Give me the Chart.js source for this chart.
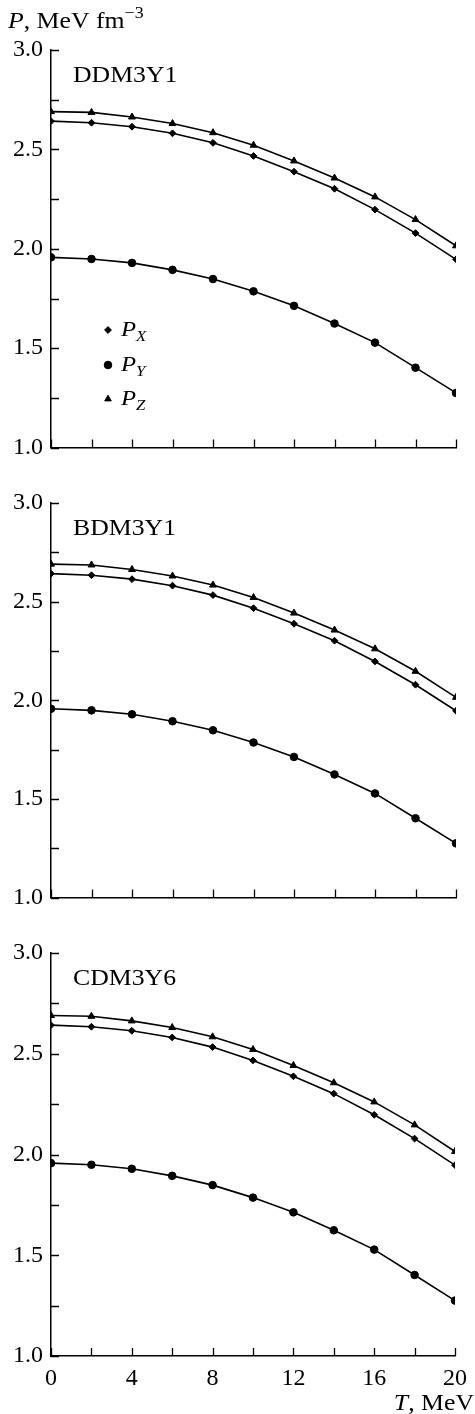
<!DOCTYPE html>
<html>
<head>
<meta charset="utf-8">
<script src="https://cdn.jsdelivr.net/npm/chart.js@4.4.1/dist/chart.umd.min.js"></script>
<style>
  html, body { margin: 0; padding: 0; background: #fff; }
  #wrap { position: relative; width: 475px; height: 1414px; }
  canvas { position: absolute; left: 0; }
</style>
</head>
<body>
<div id="wrap">
  <canvas id="c0" width="475" height="470" style="top:0"></canvas>
  <canvas id="c1" width="475" height="450" style="top:470px"></canvas>
  <canvas id="c2" width="475" height="494" style="top:920px"></canvas>
</div>
<script>
// data (temperature T in MeV, pressure in MeV fm^-3)
const temps = [0, 2, 4, 6, 8, 10, 12, 14, 16, 18, 20];
const pX = [2.642, 2.634, 2.614, 2.581, 2.533, 2.467, 2.388, 2.302, 2.197, 2.079, 1.947];
const pY = [1.957, 1.949, 1.929, 1.894, 1.848, 1.786, 1.713, 1.624, 1.528, 1.402, 1.275];
const pZ = [2.690, 2.686, 2.663, 2.630, 2.584, 2.521, 2.442, 2.356, 2.261, 2.147, 2.015];
const panelNames = ['DDM3Y1', 'BDM3Y1', 'CDM3Y6'];
const yTicks = { min: 1.0, max: 3.0, step: 0.25, labelEvery: 0.5 };
const xTicks = { min: 0, max: 20, step: 2, labelEvery: 4 };

const SERIF = '"Liberation Serif", "DejaVu Serif", serif';
const STRETCH = 1.12; // the scanned figure's lettering is a bit wide
Chart.defaults.font.family = SERIF;
Chart.defaults.color = '#000';

// layout per panel: top padding, x-axis band height, show x labels
const panelLayout = [
  { top: 50, xBand: 16, xLabels: false },
  { top: 33, xBand: 14, xLabels: false },
  { top: 33, xBand: 58, xLabels: true }
];

// measure a run of text pieces (unstretched)
const richWidth = (ctx, parts) => parts.reduce((w, p) => {
  ctx.font = p.font;
  return w + ctx.measureText(p.text).width;
}, 0);

// draw a run of text pieces with different fonts / offsets, slightly widened
const drawRich = (ctx, x, y, parts) => {
  ctx.save();
  ctx.translate(x, y);
  ctx.scale(STRETCH, 1);
  let cx = 0;
  parts.forEach(p => {
    ctx.font = p.font;
    ctx.fillText(p.text, cx, p.dy || 0);
    cx += ctx.measureText(p.text).width;
  });
  ctx.restore();
};

const marker = (ctx, style, r, x, y) => {
  ctx.fillStyle = '#000';
  ctx.strokeStyle = '#000';
  if (Chart.helpers && Chart.helpers.drawPoint) {
    Chart.helpers.drawPoint(ctx, { pointStyle: style, radius: r, rotation: 0, borderWidth: 1 }, x, y);
  } else {
    ctx.beginPath(); ctx.arc(x, y, r, 0, Math.PI * 2); ctx.fill();
  }
};

// ticks pointing into the plot area
const inwardTicks = {
  id: 'inwardTicks',
  afterDraw(chart) {
    const { ctx, scales: { x, y } } = chart;
    ctx.save();
    ctx.strokeStyle = '#000';
    ctx.lineWidth = 1.3;
    ctx.beginPath();
    x.ticks.forEach(t => {
      const px = Math.round(x.getPixelForValue(t.value)) + 0.5;
      ctx.moveTo(px, x.top); ctx.lineTo(px, x.top - 8);
    });
    y.ticks.forEach(t => {
      const py = Math.round(y.getPixelForValue(t.value)) + 0.5;
      ctx.moveTo(y.right, py); ctx.lineTo(y.right + 8, py);
    });
    ctx.stroke();
    ctx.restore();
  }
};

const panelText = {
  id: 'panelText',
  afterDraw(chart, args, opts) {
    const { ctx, chartArea } = chart;
    ctx.save();
    ctx.fillStyle = '#000';
    ctx.textBaseline = 'alphabetic';
    ctx.textAlign = 'left';
    drawRich(ctx, chartArea.left + 22, chartArea.top + 32, [{ text: opts.name, font: `23px ${SERIF}` }]);

    if (opts.first) {
      drawRich(ctx, 8, 28, [
        { text: 'P', font: `italic 23px ${SERIF}` },
        { text: ', MeV fm', font: `23px ${SERIF}` },
        { text: '\u22123', font: `16px ${SERIF}`, dy: -10 }
      ]);
      const items = [['rectRot', 3.4, 'X', 330], ['circle', 3.8, 'Y', 365], ['triangle', 3.8, 'Z', 399]];
      items.forEach(([style, r, sub, yy]) => {
        marker(ctx, style, r, 108, yy);
        ctx.fillStyle = '#000';
        drawRich(ctx, 121, yy + 6, [
          { text: 'P', font: `italic 22px ${SERIF}` },
          { text: sub, font: `italic 15px ${SERIF}`, dy: 5 }
        ]);
      });
    }
    if (opts.last) {
      const parts = [
        { text: 'T', font: `italic 23px ${SERIF}` },
        { text: ', MeV', font: `23px ${SERIF}` }
      ];
      const w = richWidth(ctx, parts) * STRETCH;
      drawRich(ctx, 474 - w, 490, parts);
    }
    ctx.restore();
  }
};

const toPoints = vals => vals.map((v, i) => ({ x: temps[i], y: v }));

const makeSet = (label, vals, style, r) => ({
  label,
  data: toPoints(vals),
  borderColor: '#000',
  backgroundColor: '#000',
  borderWidth: 1.6,
  pointStyle: style,
  pointRadius: r,
  pointBorderWidth: 1,
  tension: 0,
  fill: false
});

const initPanel = (idx) => {
  const lay = panelLayout[idx];
  const ctx = document.getElementById('c' + idx).getContext('2d');
  new Chart(ctx, {
    type: 'line',
    data: {
      datasets: [
        makeSet('PX', pX, 'rectRot', 3.4),
        makeSet('PY', pY, 'circle', 3.8),
        makeSet('PZ', pZ, 'triangle', 4)
      ]
    },
    options: {
      responsive: false,
      animation: false,
      events: [],
      layout: { padding: { top: lay.top, right: 19, left: 0, bottom: 0 } },
      plugins: {
        legend: { display: false },
        tooltip: { enabled: false },
        panelText: { name: panelNames[idx], first: idx === 0, last: idx === 2 }
      },
      scales: {
        x: {
          type: 'linear',
          min: xTicks.min,
          max: xTicks.max,
          afterFit: s => { s.height = lay.xBand; },
          grid: { display: false, drawTicks: false },
          border: { display: true, color: '#000', width: 1.5 },
          ticks: {
            display: lay.xLabels,
            stepSize: xTicks.step,
            padding: 8,
            maxRotation: 0,
            autoSkip: false,
            font: { size: 24 },
            callback: v => (v % xTicks.labelEvery === 0 ? String(v) : '')
          }
        },
        y: {
          min: yTicks.min,
          max: yTicks.max,
          afterFit: s => { s.width = 51; },
          grid: { display: false, drawTicks: false },
          border: { display: true, color: '#000', width: 1.5 },
          ticks: {
            stepSize: yTicks.step,
            padding: 8,
            autoSkip: false,
            font: { size: 24 },
            callback: v => (Math.abs(v / yTicks.labelEvery - Math.round(v / yTicks.labelEvery)) < 1e-6 ? v.toFixed(1) : '')
          }
        }
      }
    },
    plugins: [inwardTicks, panelText]
  });
};

try {
  [0, 1, 2].forEach(initPanel);
} catch (error) {
  console.error('Error initializing charts:', error);
}
</script>
</body>
</html>
